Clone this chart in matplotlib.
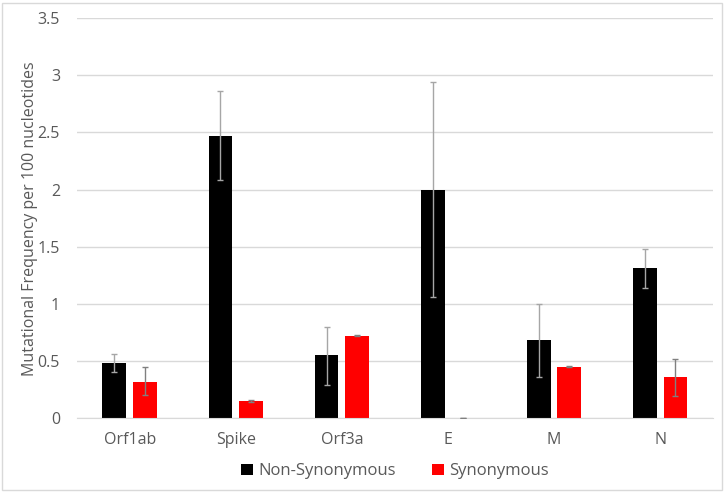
import numpy as np
import matplotlib
matplotlib.use("Agg")
from matplotlib import pyplot as plt
from matplotlib.patches import Rectangle

genes = ["Orf1ab", "Spike", "Orf3a", "E", "M", "N"]
non_syn = [0.48, 2.47, 0.55, 2.00, 0.68, 1.31]
non_syn_lo = [0.40, 2.08, 0.29, 1.06, 0.36, 1.14]
non_syn_hi = [0.56, 2.86, 0.80, 2.94, 1.00, 1.48]
syn = [0.32, 0.15, 0.72, 0.0, 0.45, 0.36]
syn_lo = [0.20, 0.145, 0.715, 0.0, 0.445, 0.19]
syn_hi = [0.45, 0.155, 0.725, 0.0, 0.455, 0.52]

plt.rcParams['font.family'] = ['Open Sans', 'DejaVu Sans']

fig = plt.figure(figsize=(7.24, 4.92), dpi=100)
ax = fig.add_axes([0.106, 0.150, 0.879, 0.813])

x = np.arange(len(genes))
w = 0.225
off = 0.145

ns_err = [np.array(non_syn) - np.array(non_syn_lo), np.array(non_syn_hi) - np.array(non_syn)]
s_err = [np.array(syn) - np.array(syn_lo), np.array(syn_hi) - np.array(syn)]

ax.bar(x - off, non_syn, w, color="black", label="Non-Synonymous", zorder=2)
ax.bar(x + off, syn, w, color="#ff0000", label="Synonymous", zorder=2)
ax.errorbar(x - off, non_syn, yerr=ns_err, fmt="none", ecolor="#a6a6a6",
            elinewidth=1, capsize=2.5, capthick=1, zorder=3)
ax.errorbar(x + off, syn, yerr=s_err, fmt="none", ecolor="#808080",
            elinewidth=1, capsize=2.5, capthick=1, zorder=3)

ax.set_xlim(-0.5, len(genes) - 0.5)
ax.set_ylim(0, 3.5)
ax.set_yticks(np.arange(0, 3.51, 0.5))
ax.set_yticklabels(["0", "0.5", "1", "1.5", "2", "2.5", "3", "3.5"])
ax.set_xticks(x)
ax.set_xticklabels(genes)
ax.yaxis.grid(True, color="#d9d9d9", linewidth=1, zorder=0)
ax.set_axisbelow(True)
for s in ["top", "right", "left"]:
    ax.spines[s].set_visible(False)
ax.spines["bottom"].set_color("#d9d9d9")
ax.tick_params(axis="both", length=0, colors="#595959", labelsize=11.5)
ax.tick_params(axis="y", pad=12)
ax.tick_params(axis="x", pad=10)
ax.set_ylabel("Mutational Frequency per 100 nucleotides", color="#595959",
              fontsize=11.5, labelpad=0)

ax.legend(loc="upper center", bbox_to_anchor=(0.5, -0.075), ncol=2, frameon=False,
          fontsize=12, handlelength=0.7, handleheight=0.7, columnspacing=2.2,
          handletextpad=0.3, labelcolor="#595959")

fig.patches.append(Rectangle((0.003, 0.004), 0.994, 0.99, transform=fig.transFigure,
                             fill=False, edgecolor="#d9d9d9", linewidth=1))

fig.savefig("out.png", dpi=100)
